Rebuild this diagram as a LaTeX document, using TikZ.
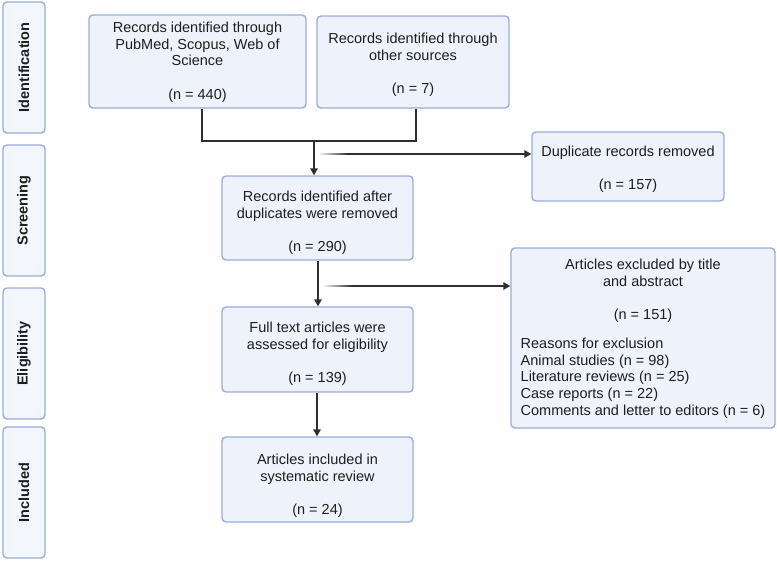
\documentclass[tikz,border=0pt]{standalone}
\usepackage{fontspec}
\setmainfont{Liberation Sans}
\usetikzlibrary{arrows.meta}
\definecolor{boxfill}{HTML}{EEF2FA}
\definecolor{boxdraw}{HTML}{98ACDE}
\definecolor{sidefill}{HTML}{F3F6FC}
\definecolor{linec}{HTML}{2E2E2E}
\definecolor{txt}{HTML}{1E1E1E}
\newcommand\tdown[1]{\rule{0pt}{\dimexpr 10.6pt+#1*2\relax}}
\tikzset{
  box/.style={draw=boxdraw, fill=boxfill, line width=1.4pt, rounded corners=4pt,
    inner sep=0pt, align=center, text=txt, font=\fontsize{14.5}{16.6}\selectfont},
  side/.style={draw=boxdraw, fill=sidefill, line width=1.4pt, rounded corners=4pt,
    inner sep=0pt, minimum width=42pt, minimum height=131pt},
  sidelabel/.style={rotate=90, font=\bfseries\fontsize{14.5}{16}\selectfont, text=txt},
  conn/.style={draw=linec, line width=1.5pt},
  arr/.style={conn, -{Triangle[length=7pt,width=7.5pt]}},
}
\begin{document}
\begin{tikzpicture}[x=1pt,y=-1pt]
\useasboundingbox (0,0) rectangle (777,560);
% side stage boxes
\node[side] (s1) at (24,67.5) {};
\node[sidelabel] (l1) at (s1) {Identification};
\node[side] (s2) at (24,210.5) {};
\node[sidelabel] (l2) at (s2) {Screening};
\node[side] (s3) at (24,353.5) {};
\node[sidelabel] (l3) at (s3) {Eligibility};
\node[side] (s4) at (24,492.5) {};
\node[sidelabel] (l4) at (s4) {Included};
% boxes
\node[box, minimum width=217pt, minimum height=93pt] (A) at (197.5,61.5)
  {\tdown{0.5pt}Records identified through\\PubMed, Scopus, Web of\\Science\\[16.6pt](n = 440)};
\node[box, minimum width=192pt, minimum height=92pt] (B) at (413,62)
  {\tdown{3pt}Records identified through\\other sources\\[16.6pt](n = 7)};
\node[box, minimum width=192pt, minimum height=69pt] (Dup) at (628,166.5)
  {\tdown{3pt}Duplicate records removed\\[16.6pt](n = 157)};
\node[box, minimum width=191pt, minimum height=84pt] (C) at (317.5,218)
  {\tdown{4.5pt}Records identified after\\duplicates were removed\\[16.6pt](n = 290)};
\node[box, minimum width=191pt, minimum height=85pt] (D) at (317.5,349.5)
  {\tdown{4pt}Full text articles were\\assessed for eligibility\\[16.6pt](n = 139)};
\node[box, minimum width=191pt, minimum height=85pt] (F) at (317.5,479.5)
  {\tdown{6pt}Articles included in\\systematic review\\[16.6pt](n = 24)};
\node[box, minimum width=264pt, minimum height=180pt] (E) at (643,338)
  {\tdown{1.5pt}Articles excluded by title\\and abstract\\[16.6pt](n = 151)\\[13.6pt]
   \begin{tabular}{@{}l@{}}Reasons for exclusion\\Animal studies (n = 98)\\Literature reviews (n = 25)\\Case reports (n = 22)\\Comments and letter to editors (n = 6)\end{tabular}};
% connectors
\coordinate (ja) at (202,141);
\coordinate (jb) at (416,141);
\coordinate (jm) at (314,141);
\draw[conn] (A.south -| ja) -- (ja) -- (jb) -- (B.south -| jb);
\draw[arr] (jm) -- (C.north -| jm);
\coordinate (d0) at (318,154);
\coordinate (d1) at (348,154);
\shade[left color=white, right color=linec] (318,153.25) rectangle (348,154.75);
\draw[arr] (d1) -- (d1 -| Dup.west);
\draw[arr] (C.south -| 318,0) -- (D.north -| 318,0);
\coordinate (e0) at (322,286);
\coordinate (e1) at (352,286);
\shade[left color=white, right color=linec] (322,285.25) rectangle (352,286.75);
\draw[arr] (e1) -- (e1 -| E.west);
\draw[arr] (D.south -| 317,0) -- (F.north -| 317,0);
\end{tikzpicture}
\end{document}
